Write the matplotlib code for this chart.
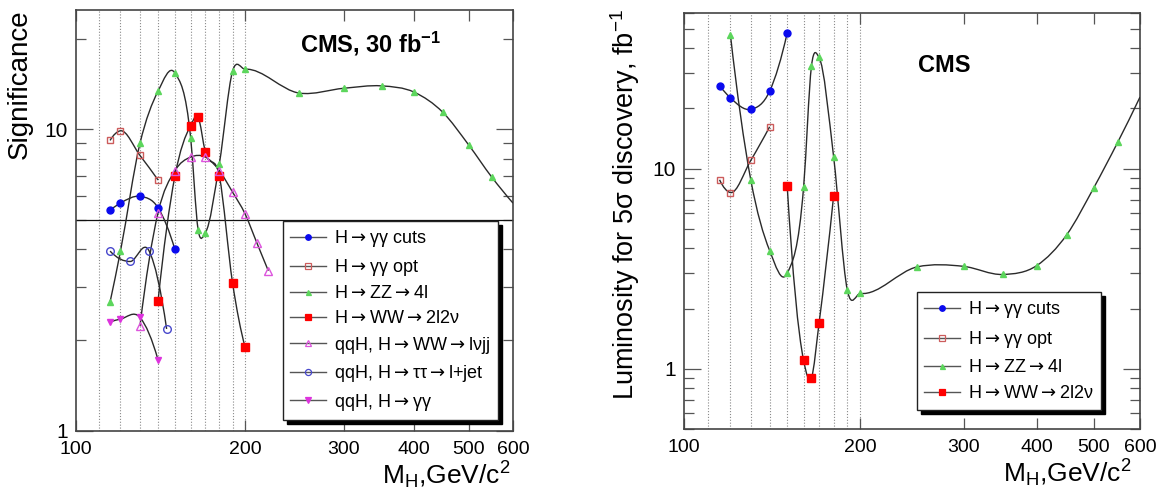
import matplotlib
matplotlib.use("Agg")
import numpy as np
import matplotlib.pyplot as plt
from matplotlib.path import Path
from matplotlib.patches import PathPatch
from matplotlib.lines import Line2D
from matplotlib.ticker import FixedLocator, NullLocator, NullFormatter, FuncFormatter, LogLocator

plt.rcParams['font.family'] = ['Liberation Sans', 'DejaVu Sans']
plt.rcParams['mathtext.fontset'] = 'custom'
plt.rcParams['mathtext.rm'] = 'Liberation Sans'
plt.rcParams['mathtext.sf'] = 'DejaVu Sans'
plt.rcParams['mathtext.bf'] = 'Liberation Sans:bold'
plt.rcParams['mathtext.default'] = 'regular'

# ---- left panel: significance for 30 fb^-1 ----
m_cuts = [115, 120, 130, 140, 150]
sig_cuts = [5.4, 5.7, 6.0, 5.5, 4.0]
m_opt = [115, 120, 130, 140]
sig_opt = [9.2, 9.9, 8.2, 6.8]
m_zz = [115, 120, 130, 140, 150, 160, 165, 170, 180, 190, 200, 250, 300, 350, 400, 450, 500, 550, 600]
sig_zz = [2.68, 3.95, 9.0, 13.4, 15.4, 9.4, 4.65, 4.55, 7.7, 15.6, 15.85, 13.2, 13.7, 13.95, 13.3, 11.4, 8.9, 6.95, 5.7]
m_ww = [140, 150, 160, 165, 170, 180, 190, 200]
sig_ww = [2.7, 7.0, 10.3, 11.0, 8.4, 7.0, 3.1, 1.9]
m_lvjj = [130, 140, 150, 160, 170, 180, 190, 200, 210, 220]
sig_lvjj = [2.23, 5.3, 7.3, 8.1, 8.1, 7.3, 6.2, 5.25, 4.2, 3.4]
m_tau = [115, 125, 135, 145]
sig_tau = [3.95, 3.65, 3.95, 2.18]
m_qqgg = [115, 120, 130, 140]
sig_qqgg = [2.3, 2.35, 2.38, 1.72]

# ---- right panel: luminosity for 5 sigma ----
mr_cuts = [115, 120, 130, 140, 150]
lum_cuts = [26, 22.6, 19.8, 24.4, 47.7]
mr_opt = [115, 120, 130, 140]
lum_opt = [8.8, 7.6, 11.0, 16.2]
mr_zz = [120, 130, 140, 150, 160, 165, 170, 180, 190, 200, 250, 300, 350, 400, 450, 500, 550, 600]
lum_zz = [46.8, 8.8, 3.9, 3.0, 8.1, 32.5, 36, 11.5, 2.47, 2.38, 3.23, 3.25, 2.96, 3.28, 4.68, 8.0, 13.6, 22.8]
mr_ww = [150, 160, 165, 170, 180]
lum_ww = [8.2, 1.1, 0.9, 1.69, 7.3]

grid_m = [110, 120, 130, 140, 150, 160, 170, 180, 190, 200]
xticks = [100, 200, 300, 400, 500, 600]

A = "$\\mathsf{\\rightarrow}$"
labels = ["H" + A + "\u03b3\u03b3 cuts", "H" + A + "\u03b3\u03b3 opt", "H" + A + "ZZ" + A + "4l",
          "H" + A + "WW" + A + "2l2\u03bd", "qqH, H" + A + "WW" + A + "l\u03bdjj",
          "qqH, H" + A + "\u03c4\u03c4" + A + "l+jet", "qqH, H" + A + "\u03b3\u03b3"]
# marker, colour, filled, size
sty = [("o", "#0a0aee", True, 5), ("s", "#cc5c5c", False, 5), ("^", "#5cd65c", True, 4.5),
       ("s", "#ff0000", True, 5.5), ("^", "#dd55dd", False, 5.5), ("o", "#4848cc", False, 5.5),
       ("v", "#dd33dd", True, 5)]


def smooth_path(xs, ys):
    # cubic hermite through the points in log-log space, written as bezier segments
    lx = np.log10(np.asarray(xs, float)); ly = np.log10(np.asarray(ys, float))
    h = np.diff(lx); d = np.diff(ly) / h
    n = len(lx); m = np.empty(n)
    m[1:-1] = (d[:-1] * h[1:] + d[1:] * h[:-1]) / (h[:-1] + h[1:])
    m[0] = ((2 * h[0] + h[1]) * d[0] - h[0] * d[1]) / (h[0] + h[1])
    m[-1] = ((2 * h[-1] + h[-2]) * d[-1] - h[-1] * d[-2]) / (h[-1] + h[-2])
    verts = [(lx[0], ly[0])]; codes = [Path.MOVETO]
    for i in range(n - 1):
        verts += [(lx[i] + h[i] / 3, ly[i] + m[i] * h[i] / 3),
                  (lx[i + 1] - h[i] / 3, ly[i + 1] - m[i + 1] * h[i] / 3),
                  (lx[i + 1], ly[i + 1])]
        codes += [Path.CURVE4] * 3
    return Path(10 ** np.array(verts), codes)


def series(ax, x, y, k, skip_last=False):
    ax.add_patch(PathPatch(smooth_path(x, y), fill=False, ec="#2a2a2a", lw=1.0, zorder=3))
    mk, c, filled, ms = sty[k]
    xs, ys = (x[:-1], y[:-1]) if skip_last else (x, y)
    ax.plot(xs, ys, ls="none", marker=mk, ms=ms, mec=c, mfc=c if filled else "none",
            mew=1.0, zorder=4)


def handle(k):
    mk, c, filled, ms = sty[k]
    return Line2D([0], [0], color="#555555", lw=1.0, marker=mk, ms=ms * 0.8, mec=c,
                  mfc=c if filled else "none", mew=0.9)


def style_axes(ax, ylo, yhi):
    ax.set_xscale("log"); ax.set_yscale("log")
    ax.set_xlim(100, 600); ax.set_ylim(ylo, yhi)
    for g in grid_m:
        ax.axvline(g, color="#8a8a8a", lw=0.8, ls=(0, (1, 1.6)), zorder=1)
    ax.xaxis.set_major_locator(FixedLocator(xticks))
    ax.xaxis.set_major_formatter(FuncFormatter(lambda v, p: "%d" % v))
    ax.xaxis.set_minor_locator(NullLocator())
    ax.yaxis.set_major_locator(LogLocator(base=10))
    ax.yaxis.set_major_formatter(FuncFormatter(lambda v, p: "%g" % v))
    ax.yaxis.set_minor_locator(LogLocator(base=10, subs=range(2, 10)))
    ax.yaxis.set_minor_formatter(NullFormatter())
    ax.tick_params(which="both", direction="in", top=True, right=True, color="#555555",
                   labelsize=15, width=0.9)
    ax.tick_params(axis="x", labelsize=14)
    ax.tick_params(axis="y", which="major", length=12, pad=6)
    ax.tick_params(axis="y", which="minor", length=7)
    ax.tick_params(axis="x", which="major", length=8, pad=7)
    for s in ax.spines.values():
        s.set_color("#444444"); s.set_linewidth(1.2)


fig = plt.figure(figsize=(11.64, 4.95), dpi=100)
W, H = 1164, 495
axL = fig.add_axes([76 / W, 1 - 431 / H, 437 / W, 421.5 / H])
axR = fig.add_axes([684 / W, 1 - 429 / H, 456 / W, 416 / H])

style_axes(axL, 1, 25)
axL.axhline(5, color="#111111", lw=0.9, zorder=2)
series(axL, m_cuts, sig_cuts, 0)
series(axL, m_opt, sig_opt, 1)
series(axL, m_zz, sig_zz, 2, skip_last=True)
series(axL, m_ww, sig_ww, 3)
series(axL, m_lvjj, sig_lvjj, 4)
series(axL, m_tau, sig_tau, 5)
series(axL, m_qqgg, sig_qqgg, 6)

style_axes(axR, 0.5, 60)
series(axR, mr_cuts, lum_cuts, 0)
series(axR, mr_opt, lum_opt, 1)
series(axR, mr_zz, lum_zz, 2, skip_last=True)
series(axR, mr_ww, lum_ww, 3)

axL.text(0.513, 0.899, "CMS, 30 fb$^{\\mathbf{-1}}$", transform=axL.transAxes,
         fontsize=17, fontweight="bold", va="baseline", ha="left")
axR.text(0.513, 0.858, "CMS", transform=axR.transAxes,
         fontsize=17, fontweight="bold", va="baseline", ha="left")

axL.set_ylabel("Significance", fontsize=20, loc="top")
axL.yaxis.set_label_coords(-0.098, 1.0)
axR.set_ylabel("Luminosity for 5\u03c3 discovery, fb$^{-1}$", fontsize=19.5, loc="top")
axR.yaxis.set_label_coords(-0.092, 1.01)
for ax, xl in ((axL, 0.995), (axR, 0.98)):
    ax.set_xlabel("M$_{H}$,GeV/c$^{2}$", fontsize=19, loc="right")
    ax.xaxis.set_label_coords(xl, -0.068)

lkw = dict(loc="upper left", fontsize=13, frameon=True, fancybox=False, framealpha=1,
           edgecolor="#222222", borderaxespad=0, borderpad=0.4, handlelength=2.0,
           handletextpad=0.45, numpoints=1,
           shadow={"ox": 3, "oy": -3, "color": "black", "alpha": 1})
legL = axL.legend([handle(k) for k in range(7)], labels, bbox_to_anchor=(0.4737, 0.498),
                  labelspacing=0.42, **lkw)
legR = axR.legend([handle(k) for k in range(4)], labels[:4], bbox_to_anchor=(0.511, 0.329),
                  labelspacing=0.5, **lkw)
for lg in (legL, legR):
    lg.get_frame().set_linewidth(1.0)
    lg.set_zorder(10)

fig.savefig("out.png", dpi=100, facecolor="white")
